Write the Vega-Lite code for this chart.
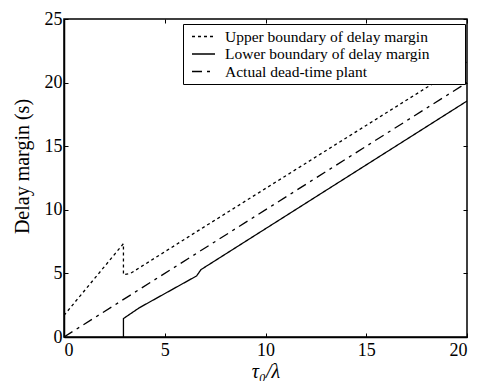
{
  "$schema": "https://vega.github.io/schema/vega-lite/v6.json",
  "width": 403,
  "height": 318,
  "autosize": "none",
  "padding": {"left": 64, "top": 19, "right": 10, "bottom": 44},
  "background": "white",
  "config": {
    "view": {"stroke": "black", "strokeWidth": 1.5},
    "axis": {
      "domainColor": "black", "domainWidth": 1.5,
      "tickColor": "black", "tickWidth": 1, "tickSize": -4,
      "grid": false,
      "labelFont": "Liberation Serif", "labelFontSize": 18, "labelColor": "black",
      "titleFont": "Liberation Serif", "titleFontSize": 20, "titleFontWeight": "normal", "titleColor": "black"
    }
  },
  "data": {"values": [
    {"s": "Upper boundary of delay margin", "i": 0, "x": 0, "y": 1.7},
    {"s": "Upper boundary of delay margin", "i": 1, "x": 2.95, "y": 7.34},
    {"s": "Upper boundary of delay margin", "i": 2, "x": 2.95, "y": 4.9},
    {"s": "Upper boundary of delay margin", "i": 3, "x": 3.3, "y": 5.0},
    {"s": "Upper boundary of delay margin", "i": 4, "x": 6.6, "y": 8.3},
    {"s": "Upper boundary of delay margin", "i": 5, "x": 20, "y": 21.6},
    {"s": "Lower boundary of delay margin", "i": 0, "x": 2.95, "y": 0},
    {"s": "Lower boundary of delay margin", "i": 1, "x": 2.95, "y": 1.45},
    {"s": "Lower boundary of delay margin", "i": 2, "x": 3.74, "y": 2.3},
    {"s": "Lower boundary of delay margin", "i": 3, "x": 6.58, "y": 4.8},
    {"s": "Lower boundary of delay margin", "i": 4, "x": 6.8, "y": 5.3},
    {"s": "Lower boundary of delay margin", "i": 5, "x": 20, "y": 18.55},
    {"s": "Actual dead-time plant", "i": 0, "x": 0, "y": 0},
    {"s": "Actual dead-time plant", "i": 1, "x": 20, "y": 20}
  ]},
  "layer": [
    {
      "mark": {"type": "line", "color": "black", "strokeWidth": 1.3, "clip": true},
      "encoding": {
        "x": {"field": "x", "type": "quantitative", "scale": {"domain": [0, 20], "nice": false, "zero": false},
              "axis": {"values": [0, 5, 10, 15, 20], "title": "τ₀/λ", "titleFontStyle": "italic", "labelPadding": 8, "titlePadding": 2}},
        "y": {"field": "y", "type": "quantitative", "scale": {"domain": [0, 25], "nice": false},
              "axis": {"values": [0, 5, 10, 15, 20, 25], "title": "Delay margin (s)", "labelPadding": 6, "titlePadding": 12, "titleY": 147}},
        "order": {"field": "i", "type": "quantitative"},
        "strokeDash": {
          "field": "s", "type": "nominal",
          "scale": {
            "domain": ["Upper boundary of delay margin", "Lower boundary of delay margin", "Actual dead-time plant"],
            "range": [[3, 3], [1, 0], [10, 5, 3, 5]]
          },
          "legend": {
            "title": null, "orient": "none", "legendX": 119, "legendY": 5,
            "strokeColor": "black", "fillColor": "white", "padding": 4,
            "labelFont": "Liberation Serif", "labelFontSize": 15.5, "labelColor": "black", "labelLimit": 400,
            "labelExpr": "datum.label + '\u2003\u2003\u200b'",
            "symbolSize": 529, "symbolStrokeWidth": 1.3, "symbolStrokeColor": "black", "symbolType": "stroke",
            "clipHeight": 17, "rowPadding": 0.5, "labelOffset": 9, "symbolOffset": 4
          }
        }
      }
    },
    {
      "mark": {"type": "rule", "opacity": 0},
      "encoding": {
        "x": {"field": "x", "type": "quantitative", "axis": {"orient": "top", "values": [0, 5, 10, 15, 20], "labels": false, "title": null, "domain": false}},
        "y": {"field": "y", "type": "quantitative", "axis": {"orient": "right", "values": [0, 5, 10, 15, 20, 25], "labels": false, "title": null, "domain": false}}
      }
    }
  ],
  "resolve": {"axis": {"x": "independent", "y": "independent"}}
}
